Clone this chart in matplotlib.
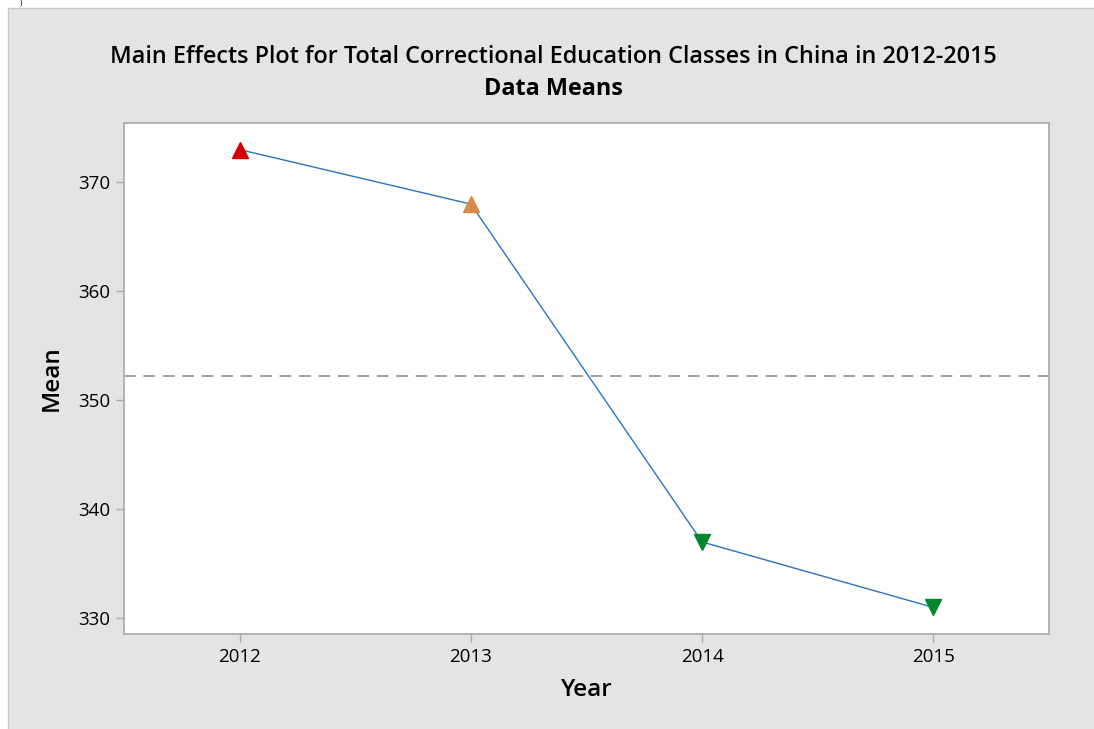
import matplotlib
matplotlib.use("Agg")
import matplotlib.pyplot as plt
from matplotlib.patches import Rectangle

plt.rcParams['font.family'] = ['Open Sans', 'DejaVu Sans']

years = ['2012', '2013', '2014', '2015']
means = [373, 368, 337, 331]
marker_kinds = ['^', '^', 'v', 'v']
marker_colors = ['#d40000', '#db8a4e', '#00882b', '#00882b']

grand_mean = sum(means) / len(means)

fig = plt.figure(figsize=(10.94, 7.29), dpi=100)
fig.patch.set_facecolor('white')
# gray panel behind the chart
fig.patches.append(Rectangle((8 / 1094, -0.01), 1.0, (729 - 8) / 729 + 0.01,
                             transform=fig.transFigure, facecolor='#e4e4e4',
                             edgecolor='#c6c6c6', linewidth=1, zorder=-10))
fig.text(20 / 1094, 1.0, ')', fontsize=6, va='top', ha='left', color='black')

ax = fig.add_axes([124 / 1094, 1 - 634 / 729, 925 / 1094, 511 / 729])
ax.set_facecolor('white')

x = list(range(len(years)))
ax.plot(x, means, color='#2a74c4', linewidth=1.0, zorder=2)
for xi, m, mk, c in zip(x, means, marker_kinds, marker_colors):
    ax.plot(xi, m, marker=mk, color=c, markersize=11, linestyle='none', zorder=3)
ax.axhline(grand_mean, color='#a0a0a0', linestyle=(0, (6, 4)), linewidth=1.4, zorder=1)

ax.set_xlim(-0.5, 3.5)
ax.set_ylim(328.56, 375.44)
ax.set_xticks(x)
ax.set_xticklabels(years)
ax.set_yticks([330, 340, 350, 360, 370])

for s in ax.spines.values():
    s.set_color('#a8a8a8')
    s.set_linewidth(1.2)
ax.tick_params(direction='out', length=6, width=1, color='#a8a8a8',
               labelsize=13.5, labelcolor='black', pad=4)
for lab in ax.get_xticklabels() + ax.get_yticklabels():
    lab.set_fontweight('medium')

ax.set_xlabel('Year', fontsize=17.5, fontweight='semibold', labelpad=9)
ax.set_ylabel('Mean', fontsize=17.5, fontweight='semibold', labelpad=10)

fig.text(0.506, 1 - 57 / 729, 'Main Effects Plot for Total Correctional Education Classes in China in 2012-2015',
         ha='center', va='center', fontsize=16.8, fontweight='semibold')
fig.text(0.506, 1 - 89 / 729, 'Data Means', ha='center', va='center',
         fontsize=16.8, fontweight='bold')

fig.savefig('out.png', dpi=100)
